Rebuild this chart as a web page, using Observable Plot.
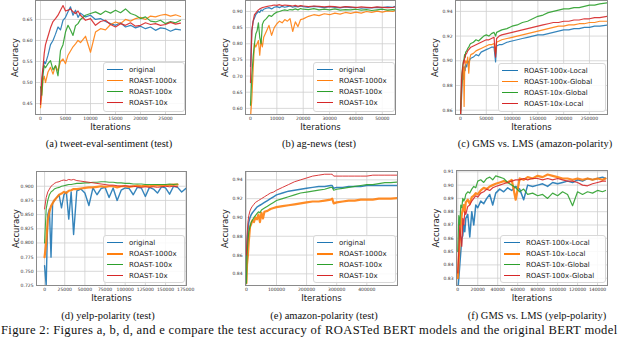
<!DOCTYPE html>
<html>
<head>
<meta charset="utf-8">
<script src="https://cdn.jsdelivr.net/npm/d3@7"></script>
<script src="https://cdn.jsdelivr.net/npm/@observablehq/plot@0.6"></script>
<style>
  html, body { margin: 0; padding: 0; background: #fff; }
  #page { position: relative; width: 640px; height: 338px; overflow: hidden; background: #fff; }
  .panel { position: absolute; }
  .legend { position: absolute; box-sizing: border-box; border: 1px solid #d8d8d8; border-radius: 3px;
            background: rgba(255,255,255,0.85); font-family: "DejaVu Sans", sans-serif; font-size: 7px; color: #222; }
  .legend .row { position: absolute; left: 0; height: 10px; line-height: 10px; white-space: nowrap; }
  .legend .sw { position: absolute; left: 3px; width: 16px; top: 5px; }
  .legend .lb { position: absolute; left: 25px; top: 0; }
  .cap { position: absolute; font-family: "Liberation Serif", serif; font-size: 10.5px; color: #111; white-space: nowrap; transform: translate(-50%, -50%); }
  .fig { position: absolute; left: 1px; top: 323px; height: 14px; line-height: 14px; font-family: "Liberation Serif", serif; font-size: 12.6px; letter-spacing: 0.32px; color: #111; white-space: nowrap; }
</style>
</head>
<body>
<div id="page"></div>
<script>
// ---------------- data ----------------
// (a) tweet-eval-sentiment
const aIter = [0,250,500,750,1000,1500,2000,2500,3000,3500,4000,4500,5000,5500,6000,6500,7000,7500,8000,9000,10000,11000,12000,13000,14000,15000,16000,17000,18000,19000,20000,21000,22000,23000,24000,25000,26000,27000,28000];
const aOriginal = [0.456,0.49,0.53,0.55,0.545,0.565,0.59,0.60,0.615,0.632,0.625,0.648,0.655,0.668,0.68,0.66,0.672,0.655,0.665,0.656,0.66,0.65,0.652,0.645,0.64,0.636,0.642,0.632,0.636,0.63,0.634,0.628,0.632,0.624,0.63,0.628,0.622,0.627,0.625];
const a1000x = [0.44,0.47,0.505,0.515,0.50,0.525,0.536,0.52,0.54,0.528,0.55,0.556,0.545,0.565,0.575,0.585,0.592,0.60,0.595,0.61,0.572,0.62,0.628,0.625,0.638,0.644,0.64,0.65,0.646,0.652,0.655,0.65,0.658,0.656,0.66,0.662,0.658,0.661,0.657];
const a100x = [0.49,0.47,0.52,0.54,0.535,0.545,0.552,0.53,0.54,0.516,0.576,0.59,0.62,0.636,0.625,0.612,0.635,0.64,0.65,0.66,0.664,0.668,0.662,0.67,0.665,0.672,0.666,0.675,0.664,0.66,0.652,0.656,0.646,0.644,0.648,0.64,0.645,0.642,0.648];
const a10x = [0.448,0.51,0.536,0.57,0.59,0.61,0.63,0.645,0.652,0.66,0.672,0.683,0.67,0.672,0.675,0.668,0.664,0.67,0.66,0.648,0.652,0.636,0.645,0.648,0.638,0.632,0.64,0.636,0.642,0.634,0.636,0.642,0.638,0.64,0.636,0.638,0.643,0.639,0.641];

// (b) ag-news
const bIter = [0,500,1000,1500,2000,2500,3000,3500,4000,4500,5000,6000,7000,8000,9000,10000,11000,12000,13000,14000,15000,16000,17000,18000,19000,20000,22000,24000,26000,28000,30000,32000,34000,36000,38000,40000,42000,44000,46000,48000,50000,52000,54000,55000];
const bOriginal = [0.73,0.84,0.87,0.88,0.89,0.895,0.90,0.897,0.905,0.902,0.907,0.91,0.912,0.908,0.913,0.915,0.912,0.916,0.913,0.915,0.917,0.913,0.916,0.914,0.917,0.915,0.913,0.916,0.914,0.912,0.915,0.913,0.911,0.914,0.912,0.913,0.91,0.912,0.911,0.913,0.912,0.914,0.913,0.916];
const b1000x = [0.57,0.63,0.72,0.80,0.79,0.80,0.81,0.765,0.81,0.79,0.82,0.838,0.857,0.826,0.85,0.862,0.87,0.865,0.875,0.87,0.878,0.838,0.868,0.853,0.875,0.877,0.885,0.89,0.887,0.893,0.89,0.895,0.892,0.897,0.894,0.898,0.895,0.9,0.897,0.901,0.898,0.902,0.9,0.903];
const b100x = [0.61,0.70,0.76,0.80,0.83,0.84,0.865,0.82,0.80,0.86,0.87,0.878,0.888,0.885,0.893,0.898,0.9,0.903,0.905,0.903,0.906,0.905,0.908,0.905,0.909,0.907,0.906,0.909,0.905,0.907,0.905,0.908,0.904,0.906,0.905,0.907,0.904,0.906,0.903,0.905,0.907,0.904,0.906,0.905];
const b10x = [0.68,0.84,0.87,0.89,0.895,0.90,0.905,0.908,0.91,0.912,0.913,0.915,0.917,0.918,0.92,0.919,0.921,0.918,0.92,0.919,0.918,0.917,0.919,0.916,0.918,0.917,0.915,0.917,0.916,0.914,0.916,0.915,0.913,0.915,0.914,0.912,0.914,0.913,0.912,0.914,0.913,0.912,0.913,0.914];

// (c) GMS vs. LMS (amazon-polarity)
const cIter = [0,1000,2000,3000,4000,5000,6000,7000,8000,9000,10000,12000,14000,16000,18000,20000,25000,30000,35000,40000,45000,50000,55000,60000,65000,68000,70000,75000,80000,90000,100000,110000,120000,130000,140000,150000,160000,170000,180000,190000,200000,210000,220000,230000,240000,250000,260000,270000,285000];
const c100xLocal = [0.855,0.86,0.87,0.88,0.885,0.89,0.885,0.893,0.895,0.892,0.897,0.895,0.9,0.898,0.901,0.902,0.903,0.905,0.904,0.907,0.908,0.909,0.91,0.911,0.911,0.899,0.912,0.913,0.913,0.915,0.916,0.917,0.918,0.919,0.92,0.921,0.921,0.922,0.923,0.924,0.925,0.925,0.926,0.926,0.927,0.927,0.928,0.928,0.929];
const c100xGlobal = [0.855,0.865,0.875,0.885,0.89,0.893,0.895,0.863,0.89,0.897,0.9,0.898,0.903,0.89,0.902,0.905,0.906,0.908,0.909,0.91,0.911,0.912,0.913,0.913,0.914,0.906,0.915,0.916,0.917,0.918,0.919,0.92,0.921,0.922,0.923,0.924,0.925,0.926,0.927,0.928,0.928,0.929,0.929,0.93,0.93,0.931,0.931,0.932,0.932];
const c10xGlobal = [0.86,0.87,0.88,0.89,0.895,0.898,0.90,0.902,0.905,0.903,0.907,0.908,0.91,0.911,0.913,0.914,0.915,0.917,0.916,0.918,0.92,0.921,0.92,0.922,0.923,0.92,0.923,0.924,0.925,0.926,0.928,0.929,0.931,0.932,0.934,0.936,0.937,0.939,0.94,0.941,0.942,0.942,0.943,0.943,0.944,0.945,0.945,0.946,0.947];
const c10xLocal = [0.855,0.87,0.885,0.89,0.893,0.897,0.90,0.898,0.902,0.903,0.905,0.906,0.908,0.909,0.91,0.911,0.912,0.913,0.914,0.915,0.916,0.917,0.917,0.918,0.919,0.903,0.918,0.92,0.921,0.922,0.923,0.924,0.925,0.926,0.927,0.928,0.929,0.93,0.931,0.931,0.932,0.932,0.933,0.933,0.934,0.934,0.935,0.935,0.936];

// (d) yelp-polarity
const dIter = [0,2000,4000,6000,8000,10000,12000,15000,18000,21000,24000,27000,30000,33000,36000,40000,45000,50000,55000,60000,65000,70000,75000,80000,85000,90000,95000,100000,105000,110000,115000,120000,125000,130000,135000,140000,145000,150000,155000,160000,165000,170000,175000];
const dOriginal = [0.76,0.725,0.85,0.86,0.775,0.87,0.875,0.88,0.885,0.862,0.885,0.89,0.842,0.89,0.815,0.892,0.895,0.888,0.866,0.897,0.885,0.896,0.898,0.88,0.897,0.875,0.893,0.897,0.896,0.885,0.898,0.897,0.882,0.898,0.895,0.888,0.899,0.897,0.886,0.9,0.898,0.89,0.896];
const d1000x = [0.775,0.80,0.84,0.855,0.865,0.87,0.875,0.88,0.885,0.887,0.89,0.888,0.892,0.893,0.895,0.895,0.896,0.897,0.898,0.898,0.899,0.9,0.899,0.9,0.9,0.898,0.9,0.9,0.899,0.9,0.901,0.9,0.901,0.9,0.901,0.902,0.901,0.902,0.902,0.903,0.903,null,null];
const d100x = [0.80,0.86,0.875,0.885,0.89,0.892,0.895,0.897,0.898,0.9,0.901,0.902,0.903,0.903,0.904,0.905,0.905,0.906,0.906,0.907,0.907,0.908,0.908,0.907,0.907,0.906,0.906,0.905,0.905,0.904,0.904,0.904,0.903,0.903,0.903,0.903,0.903,0.903,0.904,0.903,0.904,null,null];
const d10x = [0.86,0.88,0.89,0.895,0.9,0.902,0.905,0.907,0.908,0.91,0.911,0.91,0.912,0.911,0.912,0.91,0.909,0.908,0.907,0.906,0.905,0.904,0.903,0.902,0.902,0.901,0.9,0.901,0.9,0.9,0.899,0.898,0.899,0.898,0.899,0.898,0.899,0.9,0.899,0.9,0.899,null,null];

// (e) amazon-polarity
const eIter = [0,2000,5000,8000,12000,16000,20000,25000,30000,35000,40000,45000,50000,55000,60000,70000,80000,90000,100000,120000,140000,160000,180000,200000,220000,240000,260000,280000,285000,290000,300000,320000,340000,360000,380000,400000,420000,440000,460000,480000,500000];
const eOriginal = [0.85,0.87,0.885,0.895,0.9,0.903,0.905,0.907,0.909,0.911,0.912,0.913,0.914,0.915,0.916,0.918,0.92,0.922,0.924,0.926,0.928,0.929,0.93,0.931,0.932,0.933,0.933,0.934,0.934,0.931,0.932,0.932,0.933,0.933,0.933,0.934,0.934,0.934,0.934,0.934,0.934];
const e1000x = [0.83,0.85,0.86,0.875,0.89,0.893,0.897,0.895,0.9,0.898,0.903,0.895,0.905,0.899,0.906,0.907,0.909,0.91,0.911,0.912,0.913,0.914,0.915,0.916,0.917,0.917,0.918,0.919,0.92,0.915,0.916,0.917,0.918,0.918,0.919,0.919,0.919,0.92,0.92,0.92,0.9205];
const e100x = [0.83,0.86,0.875,0.885,0.89,0.895,0.897,0.9,0.902,0.904,0.906,0.905,0.908,0.909,0.91,0.912,0.914,0.916,0.918,0.92,0.922,0.924,0.926,0.927,0.928,0.929,0.93,0.932,0.932,0.929,0.93,0.931,0.932,0.933,0.934,0.935,0.935,0.936,0.937,0.937,0.9375];
const e10x = [0.86,0.88,0.895,0.902,0.907,0.91,0.912,0.914,0.916,0.917,0.918,0.919,0.92,0.921,0.922,0.924,0.926,0.927,0.929,0.932,0.935,0.938,0.94,0.942,0.944,0.945,0.946,0.946,0.946,0.944,0.944,0.944,0.944,0.944,0.944,0.944,0.945,0.945,0.945,0.945,0.945];

// (f) GMS vs. LMS (yelp-polarity)
const fIter = [0,1000,2000,3000,4000,5000,6000,7000,8000,10000,12000,14000,16000,18000,20000,23000,26000,29000,32000,35000,38000,42000,46000,50000,54000,58000,62000,66000,70000,75000,80000,85000,90000,95000,100000,105000,110000,115000,120000,125000,130000,135000,140000,145000,148000];
const f100xLocal = [0.82,0.83,0.84,0.85,0.86,0.862,0.87,0.865,0.875,0.878,0.861,0.88,0.87,0.885,0.883,0.888,0.886,0.89,0.893,0.885,0.894,0.897,0.895,0.898,0.896,0.899,0.897,0.889,0.9,0.899,0.9,0.901,0.899,0.902,0.901,0.902,0.903,0.902,0.904,0.903,0.905,0.904,0.905,0.906,0.905];
const f10xLocal = [0.83,0.845,0.86,0.87,0.878,0.882,0.885,0.88,0.887,0.889,0.886,0.891,0.892,0.894,0.893,0.896,0.898,0.897,0.899,0.9,0.901,0.902,0.903,0.902,0.904,0.889,0.905,0.904,0.906,0.905,0.907,0.906,0.908,0.907,0.906,0.905,0.905,0.904,0.905,0.904,0.905,0.904,0.905,0.904,0.905];
const f10xGlobal = [0.85,0.877,0.87,0.885,0.883,0.89,0.888,0.8895,0.893,0.895,0.894,0.897,0.899,0.898,0.903,0.904,0.902,0.905,0.906,0.904,0.907,0.906,0.905,0.902,0.9,0.898,0.895,0.897,0.893,0.894,0.892,0.893,0.89,0.894,0.892,0.895,0.893,0.8845,0.895,0.893,0.895,0.894,0.896,0.895,0.896];
const f100xGlobal = [0.834,0.85,0.87,0.86,0.854,0.875,0.87,0.88,0.878,0.884,0.885,0.888,0.89,0.892,0.891,0.894,0.895,0.897,0.896,0.898,0.899,0.9,0.901,0.902,0.903,0.904,0.904,0.905,0.904,0.905,0.905,0.904,0.905,0.904,0.905,0.904,0.903,0.903,0.902,0.9,0.8995,0.901,0.902,0.903,0.903];

// tick values
const aXTicks = [0,5000,10000,15000,20000,25000];
const aYTicks = [0.45,0.50,0.55,0.60,0.65];
const bXTicks = [0,10000,20000,30000,40000,50000];
const bYTicks = [0.60,0.65,0.70,0.75,0.80,0.85,0.90];
const cXTicks = [0,50000,100000,150000,200000,250000];
const cYTicks = [0.86,0.88,0.90,0.92,0.94];
const dXTicks = [0,25000,50000,75000,100000,125000,150000,175000];
const dYTicks = [0.725,0.750,0.775,0.800,0.825,0.850,0.875,0.900];
const eXTicks = [0,100000,200000,300000,400000];
const eYTicks = [0.84,0.86,0.88,0.90,0.92,0.94];
const fXTicks = [0,20000,40000,60000,80000,100000,120000,140000];
const fYTicks = [0.83,0.84,0.85,0.86,0.87,0.88,0.89,0.90,0.91];

const namesBasic = ["original","ROAST-1000x","ROAST-100x","ROAST-10x"];
const namesC = ["ROAST-100x-Local","ROAST-100x-Global","ROAST-10x-Global","ROAST-10x-Local"];
const namesF = ["ROAST-100x-Local","ROAST-10x-Local","ROAST-10x-Global","ROAST-100x-Global"];

const captions = ["(a) tweet-eval-sentiment (test)","(b) ag-news (test)","(c) GMS vs. LMS (amazon-polarity)",
                  "(d) yelp-polarity (test)","(e) amazon-polarity (test)","(f) GMS vs. LMS (yelp-polarity)"];
const figureText = "Figure 2: Figures a, b, d, and e compare the test accuracy of ROASTed BERT models and the original BERT model";

// ---------------- drawing ----------------
const COLORS = ["#1f77b4","#ff7f0e","#2ca02c","#d62728"];
const page = document.getElementById("page");

const panels = [
  {iter:aIter, ys:[aOriginal,a1000x,a100x,a10x], names:namesBasic, xt:aXTicks, yt:aYTicks, yf:".2f",
   xd:[-1000,29000], yd:[0.424,0.695], fr:[35,185,0,114], lg:[103,62,82,50], sw:[1.2,1.2,1.2,1.2], cap:[109,143,0]},
  {iter:bIter, ys:[bOriginal,b1000x,b100x,b10x], names:namesBasic, xt:bXTicks, yt:bYTicks, yf:".2f",
   xd:[-1900,55000], yd:[0.581,0.934], fr:[245,395,0,114], lg:[313,62,82,50], sw:[1.2,1.2,1.2,1.2], cap:[319,143,1]},
  {iter:cIter, ys:[c100xLocal,c100xGlobal,c10xGlobal,c10xLocal], names:namesC, xt:cXTicks, yt:cYTicks, yf:".2f",
   xd:[-9700,285000], yd:[0.8565,0.9488], fr:[455,607,0,114], lg:[498,63,108,49], sw:[1.2,1.2,1.2,1.2], cap:[535,143,2]},
  {iter:dIter, ys:[dOriginal,d1000x,d100x,d10x], names:namesBasic, xt:dXTicks, yt:dYTicks, yf:".3f",
   xd:[-10000,176000], yd:[0.725,0.926], fr:[36,186,171,285], lg:[103,235,82,48], sw:[1.4,2.2,1.1,1.0], cap:[108,315,3]},
  {iter:eIter, ys:[eOriginal,e1000x,e100x,e10x], names:namesBasic, xt:eXTicks, yt:eYTicks, yf:".2f",
   xd:[-3000,502000], yd:[0.8276,0.9489], fr:[245,397,171,285], lg:[313,235,83,48], sw:[1.5,2.2,1.2,1.0], cap:[324,315,4]},
  {iter:fIter, ys:[f100xLocal,f10xLocal,f10xGlobal,f100xGlobal], names:namesF, xt:fXTicks, yt:fYTicks, yf:".2f",
   xd:[-1300,150000], yd:[0.8245,0.911], fr:[456,607,170,285], lg:[500,235,106,48], sw:[1.5,2.2,1.2,1.2], cap:[537,315,5]}
];

const ML = 35, MR = 25, MT = 10, MB = 25;

for (const p of panels) {
  const [L, R, T, B] = p.fr;
  const W = (R - L) + ML + MR, H = (B - T) + MT + MB;
  const marks = [
    Plot.gridX(p.xt, {stroke: "#cfcfcf", strokeOpacity: 1, strokeWidth: 0.8}),
    Plot.gridY(p.yt, {stroke: "#cfcfcf", strokeOpacity: 1, strokeWidth: 0.8}),
    Plot.axisX(p.xt, {tickSize: 0, tickPadding: 2.5, fontSize: 4.5, label: null, tickFormat: d => String(d), fill: "#333"}),
    Plot.axisY(p.yt, {tickSize: 0, tickPadding: 3, fontSize: 4.5, label: null, tickFormat: d3.format(p.yf), fill: "#333"}),
  ];
  p.ys.forEach((ys, si) => {
    const rows = [];
    p.iter.forEach((x, i) => rows.push({x, y: ys[i]}));
    marks.push(Plot.line(rows, {x: "x", y: "y", stroke: COLORS[si], strokeWidth: p.sw[si], strokeOpacity: 0.9, clip: true, curve: "linear"}));
  });
  marks.push(Plot.frame({stroke: "#8a8a8a", strokeWidth: 1}));
  marks.push(Plot.text(["Iterations"], {text: d => d, frameAnchor: "bottom", dy: 13, fontSize: 8.5, fill: "#222", lineAnchor: "middle"}));
  marks.push(Plot.text(["Accuracy"], {text: d => d, frameAnchor: "left", dx: -20, rotate: -90, fontSize: 8.5, fill: "#222", textAnchor: "middle", lineAnchor: "middle"}));

  const chart = Plot.plot({
    width: W, height: H,
    marginLeft: ML, marginRight: MR, marginTop: MT, marginBottom: MB,
    style: {fontFamily: "DejaVu Sans, sans-serif", background: "transparent", overflow: "visible"},
    x: {domain: p.xd},
    y: {domain: p.yd},
    marks
  });
  const holder = document.createElement("div");
  holder.className = "panel";
  holder.style.left = (L - ML) + "px";
  holder.style.top = (T - MT) + "px";
  holder.appendChild(chart);
  page.appendChild(holder);

  // legend
  const [lx, ly, lw, lh] = p.lg;
  const lg = document.createElement("div");
  lg.className = "legend";
  lg.style.left = lx + "px"; lg.style.top = ly + "px";
  lg.style.width = lw + "px"; lg.style.height = lh + "px";
  p.names.forEach((nm, si) => {
    const row = document.createElement("div");
    row.className = "row";
    row.style.top = (2 + si * 11) + "px";
    row.style.width = lw + "px";
    const sw = document.createElement("div");
    sw.className = "sw";
    const t = Math.max(1.2, p.sw[si] * 1.2);
    sw.style.borderTop = t + "px solid " + COLORS[si];
    sw.style.top = (5 - t / 2) + "px";
    const lb = document.createElement("div");
    lb.className = "lb";
    lb.textContent = nm;
    row.appendChild(sw); row.appendChild(lb);
    lg.appendChild(row);
  });
  page.appendChild(lg);

  // caption
  const cap = document.createElement("div");
  cap.className = "cap";
  cap.style.left = p.cap[0] + "px";
  cap.style.top = p.cap[1] + "px";
  cap.textContent = captions[p.cap[2]];
  page.appendChild(cap);
}

const fig = document.createElement("div");
fig.className = "fig";
fig.textContent = figureText;
page.appendChild(fig);
</script>
</body>
</html>
